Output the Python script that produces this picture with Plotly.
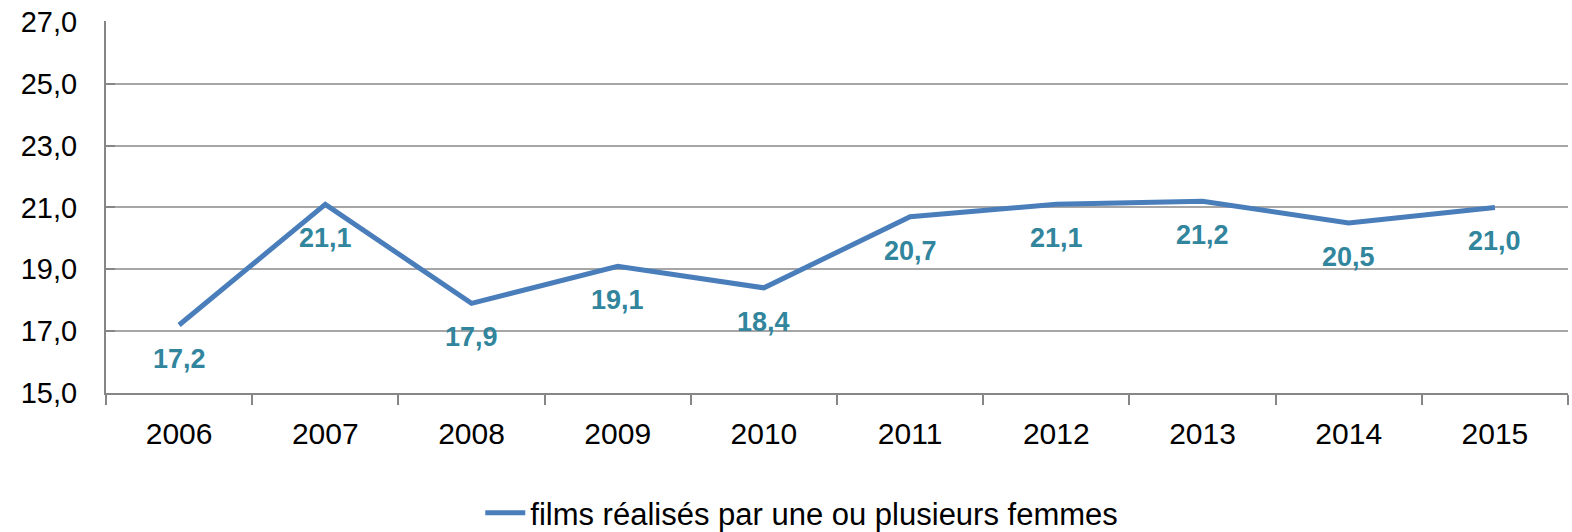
import plotly.graph_objects as go

years = ["2006", "2007", "2008", "2009", "2010", "2011", "2012", "2013", "2014", "2015"]
values = [17.2, 21.1, 17.9, 19.1, 18.4, 20.7, 21.1, 21.2, 20.5, 21.0]
series_name = "films réalisés par une ou plusieurs femmes"

line_color = "#4A7EBB"
label_color = "#31859C"
font_family = "Liberation Sans, Arial, sans-serif"

fig = go.Figure()
fig.add_trace(go.Scatter(
    x=years, y=values, mode="lines", name=series_name,
    line=dict(color=line_color, width=5),
    showlegend=True,
))

for i, v in enumerate(values):
    fig.add_annotation(
        x=i, y=v, text=f"{v:.1f}".replace(".", ","), showarrow=False,
        yshift=-34, font=dict(family=font_family, size=27, color=label_color, weight="bold"),
    )

fig.update_layout(
    width=1572, height=532,
    margin=dict(l=106, r=4, t=21, b=139, autoexpand=False),
    paper_bgcolor="white", plot_bgcolor="white",
    separators=", ",
    font=dict(family=font_family, size=28, color="black"),
    legend=dict(orientation="h", x=0.256, xanchor="left", y=-0.3226, yanchor="middle",
                font=dict(size=31), itemwidth=40, bgcolor="rgba(0,0,0,0)"),
    showlegend=True,
)
fig.update_xaxes(
    type="category", range=[-0.5, len(years) - 0.5], tickangle=0,
    tickson="boundaries", ticks="outside", ticklen=10,
    tickcolor="#868686", tickwidth=2,
    showline=True, linecolor="#868686", linewidth=2,
    showgrid=False, ticklabelstandoff=13,
    tickfont=dict(size=30),
)
fig.update_yaxes(
    range=[15, 27.03], dtick=2, tick0=15, tickformat=".1f",
    showgrid=True, gridcolor="#A6A6A6", gridwidth=2,
    showline=True, linecolor="#868686", linewidth=2,
    ticks="inside", ticklen=9, tickcolor="#868686", tickwidth=2,
    zeroline=False, ticklabelstandoff=21, ticklabeloverflow="allow",
    tickfont=dict(size=29),
)

fig.write_html(
    "out.html",
    config={"displayModeBar": False},
    post_script="document.body.style.margin='0';document.body.style.overflow='hidden';",
)
